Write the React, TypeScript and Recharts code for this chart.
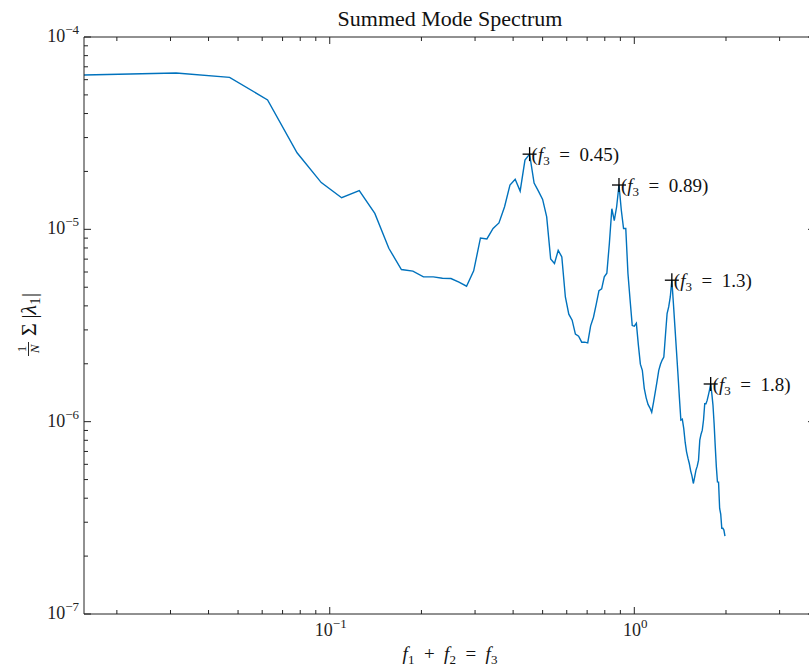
import {
  ComposedChart,
  Line,
  Scatter,
  XAxis,
  YAxis,
} from 'recharts'

// frequency bins (f1 + f2) and the mode-summed amplitude in each bin
const freq = [
  0.0156, 0.0313, 0.0469, 0.0625, 0.0781, 0.0938, 0.1094, 0.125, 0.1406, 0.1563,
  0.1719, 0.1875, 0.2031, 0.2188, 0.2344, 0.25, 0.2656, 0.2813, 0.2969, 0.3125,
  0.3281, 0.3438, 0.3594, 0.375, 0.3906, 0.4063, 0.4219, 0.4375, 0.4531, 0.4688,
  0.4844, 0.5, 0.5156, 0.5313, 0.5469, 0.5625, 0.5781, 0.5938, 0.6094, 0.625,
  0.6406, 0.6563, 0.6719, 0.6875, 0.7031, 0.7188, 0.7344, 0.75, 0.7656, 0.7813,
  0.7969, 0.8125, 0.8281, 0.8438, 0.8594, 0.875, 0.8906, 0.9063, 0.9219, 0.9375,
  0.9531, 0.9688, 0.9844, 1, 1.0156, 1.0313, 1.0469, 1.0625, 1.0781, 1.0938,
  1.1094, 1.125, 1.1406, 1.1563, 1.1719, 1.1875, 1.2031, 1.2188, 1.2344, 1.25,
  1.2656, 1.2813, 1.2969, 1.3125, 1.3281, 1.3438, 1.3594, 1.375, 1.3906, 1.4063,
  1.4219, 1.4375, 1.4531, 1.4688, 1.4844, 1.5, 1.5156, 1.5313, 1.5469, 1.5625,
  1.5781, 1.5938, 1.6094, 1.625, 1.6406, 1.6563, 1.6719, 1.6875, 1.7031, 1.7188,
  1.7344, 1.75, 1.7656, 1.7813, 1.7969, 1.8125, 1.8281, 1.8438, 1.8594, 1.875,
  1.8906, 1.9063, 1.9219, 1.9375, 1.9531, 1.9688, 1.9844,
]

const amplitude = [
  6.35e-5, 6.5e-5, 6.17e-5, 4.71e-5, 2.5e-5, 1.75e-5, 1.46e-5, 1.59e-5, 1.21e-5, 7.97e-6,
  6.18e-6, 6.06e-6, 5.66e-6, 5.66e-6, 5.57e-6, 5.55e-6, 5.31e-6, 5.06e-6, 6.08e-6, 9.02e-6,
  8.91e-6, 1.01e-5, 1.08e-5, 1.31e-5, 1.7e-5, 1.82e-5, 1.58e-5, 2.29e-5, 2.46e-5, 1.74e-5,
  1.58e-5, 1.43e-5, 1.16e-5, 7.02e-6, 6.64e-6, 7.78e-6, 7.19e-6, 4.45e-6, 3.62e-6, 3.37e-6,
  2.85e-6, 2.78e-6, 2.59e-6, 2.59e-6, 2.57e-6, 3.15e-6, 3.49e-6, 4.08e-6, 4.8e-6, 4.9e-6,
  5.66e-6, 5.91e-6, 8.44e-6, 1.28e-5, 1.11e-5, 1.31e-5, 1.7e-5, 1.26e-5, 1.01e-5, 1.01e-5,
  5.89e-6, 4.28e-6, 3.16e-6, 3.14e-6, 3.25e-6, 2.5e-6, 1.99e-6, 1.85e-6, 1.49e-6, 1.33e-6,
  1.23e-6, 1.18e-6, 1.12e-6, 1.26e-6, 1.43e-6, 1.62e-6, 1.85e-6, 1.99e-6, 2.09e-6, 2.17e-6,
  2.82e-6, 3.65e-6, 3.95e-6, 4.45e-6, 5.44e-6, 4.13e-6, 3.11e-6, 2.35e-6, 1.78e-6, 1.33e-6,
  1.02e-6, 1.03e-6, 9.22e-7, 7.82e-7, 6.97e-7, 6.46e-7, 6.06e-7, 5.55e-7, 5.21e-7, 4.77e-7,
  5.15e-7, 5.6e-7, 5.87e-7, 6.31e-7, 8.01e-7, 8.61e-7, 9.03e-7, 1.02e-6, 1.24e-6, 1.24e-6,
  1.29e-6, 1.37e-6, 1.46e-6, 1.57e-6, 1.4e-6, 1.22e-6, 9.79e-7, 7.46e-7, 5.82e-7, 4.86e-7,
  4.85e-7, 3.54e-7, 3.31e-7, 2.79e-7, 2.79e-7, 2.73e-7, 2.54e-7,
]

// tagged peaks
const peakFreq = [0.4531, 0.8906, 1.3281, 1.7813]
const peakAmplitude = [2.46e-5, 1.7e-5, 5.44e-6, 1.57e-6]
const peakLabels = ['0.45', '0.89', '1.3', '1.8']

const xTicks = [
  0.02, 0.03, 0.04, 0.05, 0.06, 0.07, 0.08, 0.09, 0.1,
  0.2, 0.3, 0.4, 0.5, 0.6, 0.7, 0.8, 0.9, 1, 2, 3,
]
const yTicks = [
  1e-7, 2e-7, 3e-7, 4e-7, 5e-7, 6e-7, 7e-7, 8e-7, 9e-7,
  1e-6, 2e-6, 3e-6, 4e-6, 5e-6, 6e-6, 7e-6, 8e-6, 9e-6,
  1e-5, 2e-5, 3e-5, 4e-5, 5e-5, 6e-5, 7e-5, 8e-5, 9e-5, 1e-4,
]

const spectrum = freq.map((f, i) => ({ f, v: amplitude[i] }))
const peaks = peakFreq.map((f, i) => ({ f, v: peakAmplitude[i], label: peakLabels[i] }))

const SERIF = '"Liberation Serif", "DejaVu Serif", serif'
const MAJOR = 7
const MINOR = 4
const SP = '\u2002'

const isDecade = (v: number) => Math.abs(Math.log10(v) - Math.round(Math.log10(v))) < 1e-6

function Pow10({ x, y, exp, anchor }: { x: number; y: number; exp: number; anchor: 'end' | 'middle' }) {
  return (
    <text x={x} y={y} textAnchor={anchor} fontFamily={SERIF} fontSize={18} fill="#222">
      10
      <tspan dy={-8} fontSize={13}>
        {exp < 0 ? `\u2212${-exp}` : `${exp}`}
      </tspan>
    </text>
  )
}

// ticks point into the plot box, MATLAB style
function BottomTick(props: any) {
  const { x, y, payload } = props
  const major = isDecade(payload.value)
  return (
    <g>
      <line x1={x} x2={x} y1={y} y2={y - (major ? MAJOR : MINOR)} stroke="#222" strokeWidth={1} />
      {major && <Pow10 x={x + 1} y={y + 22} exp={Math.round(Math.log10(payload.value))} anchor="middle" />}
    </g>
  )
}

function TopTick(props: any) {
  const { x, y, payload } = props
  const major = isDecade(payload.value)
  return <line x1={x} x2={x} y1={y} y2={y + (major ? MAJOR : MINOR)} stroke="#222" strokeWidth={1} />
}

function LeftTick(props: any) {
  const { x, y, payload } = props
  const major = isDecade(payload.value)
  return (
    <g>
      <line x1={x} x2={x + (major ? MAJOR : MINOR)} y1={y} y2={y} stroke="#222" strokeWidth={1} />
      {major && <Pow10 x={x - 5} y={y + 5} exp={Math.round(Math.log10(payload.value))} anchor="end" />}
    </g>
  )
}

function RightTick(props: any) {
  const { x, y, payload } = props
  const major = isDecade(payload.value)
  return <line x1={x} x2={x - (major ? MAJOR : MINOR)} y1={y} y2={y} stroke="#222" strokeWidth={1} />
}

function PeakMark(props: any) {
  const { cx, cy, payload } = props
  return (
    <g>
      <line x1={cx - 7} x2={cx + 7} y1={cy} y2={cy} stroke="#000" strokeWidth={1.3} />
      <line x1={cx} x2={cx} y1={cy - 7} y2={cy + 7} stroke="#000" strokeWidth={1.3} />
      <text x={cx + 2} y={cy + 7} fontFamily={SERIF} fontSize={19} fill="#111">
        (<tspan fontStyle="italic">f</tspan>
        <tspan fontSize={13} dy={4}>3</tspan>
        <tspan dy={-4}>{`${SP}=${SP}${payload.label})`}</tspan>
      </text>
    </g>
  )
}

const axisLine = { stroke: '#222', strokeWidth: 1 }

export default function App() {
  return (
    <div
      style={{
        position: 'fixed',
        left: 0,
        top: 0,
        width: 809,
        height: 671,
        overflow: 'hidden',
        background: '#fff',
      }}
    >
      <ComposedChart
        width={840}
        height={671}
        data={spectrum}
        margin={{ top: 17, right: 5, bottom: 37, left: 64 }}
      >
        <XAxis
          dataKey="f"
          type="number"
          scale="log"
          domain={[0.0156, 3.92]}
          allowDataOverflow
          ticks={xTicks}
          interval={0}
          tickSize={0}
          tickMargin={0}
          tickLine={false}
          axisLine={axisLine}
          tick={<BottomTick />}
          height={20}
        />
        <XAxis
          xAxisId="top"
          orientation="top"
          dataKey="f"
          type="number"
          scale="log"
          domain={[0.0156, 3.92]}
          allowDataOverflow
          ticks={xTicks}
          interval={0}
          tickSize={0}
          tickMargin={0}
          tickLine={false}
          axisLine={axisLine}
          tick={<TopTick />}
          height={20}
        />
        <YAxis
          type="number"
          scale="log"
          domain={[1e-7, 1e-4]}
          allowDataOverflow
          ticks={yTicks}
          interval={0}
          tickSize={0}
          tickMargin={0}
          tickLine={false}
          axisLine={axisLine}
          tick={<LeftTick />}
          width={20}
        />
        <YAxis
          yAxisId="right"
          orientation="right"
          type="number"
          scale="log"
          domain={[1e-7, 1e-4]}
          allowDataOverflow
          ticks={yTicks}
          interval={0}
          tickSize={0}
          tickMargin={0}
          tickLine={false}
          axisLine={axisLine}
          tick={<RightTick />}
          width={20}
        />
        <Line
          dataKey="v"
          stroke="#0072BD"
          strokeWidth={1.4}
          dot={false}
          isAnimationActive={false}
        />
        <Scatter data={peaks} dataKey="v" shape={<PeakMark />} isAnimationActive={false} />

        <text x={450} y={26} textAnchor="middle" fontFamily={SERIF} fontSize={22} fill="#111">
          Summed Mode Spectrum
        </text>
        <text x={450} y={660} textAnchor="middle" fontFamily={SERIF} fontSize={19} fill="#111">
          <tspan fontStyle="italic">f</tspan>
          <tspan fontSize={13} dy={4}>1</tspan>
          <tspan dy={-4}>{`${SP}+${SP}`}</tspan>
          <tspan fontStyle="italic">f</tspan>
          <tspan fontSize={13} dy={4}>2</tspan>
          <tspan dy={-4}>{`${SP}=${SP}`}</tspan>
          <tspan fontStyle="italic">f</tspan>
          <tspan fontSize={13} dy={4}>3</tspan>
        </text>
        {/* y label: (1/N) Σ|λ1|, drawn rotated */}
        <g transform="translate(36, 320) rotate(-90)" fontFamily={SERIF} fill="#111">
          <text x={-29} y={-10} textAnchor="middle" fontSize={13}>1</text>
          <line x1={-36} x2={-22} y1={-7.5} y2={-7.5} stroke="#111" strokeWidth={0.9} />
          <text x={-29} y={3} textAnchor="middle" fontSize={13} fontStyle="italic">N</text>
          <text x={-16} y={0} fontSize={22}>
            {'\u03a3\u2009|'}
            <tspan fontStyle="italic">{'\u03bb'}</tspan>
            <tspan fontSize={15} dy={4}>1</tspan>
            <tspan dy={-4}>|</tspan>
          </text>
        </g>
      </ComposedChart>
    </div>
  )
}
